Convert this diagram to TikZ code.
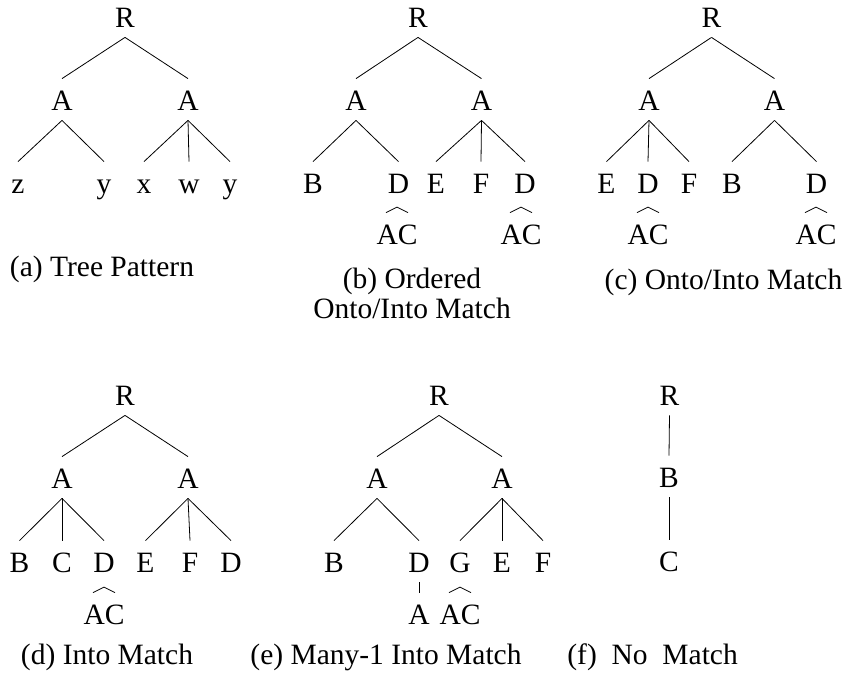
\documentclass[tikz,border=0pt]{standalone}
\usepackage{fontspec}
\setmainfont{Liberation Serif}
\usetikzlibrary{positioning}

\newcommand{\treefont}{\fontsize{29.5}{29.5}\selectfont}
% small two-leg hook above a node, standing for its two children
\newcommand{\caret}[1]{\draw ([xshift=-11pt]#1.north) -- ([yshift=5.5pt]#1.north) -- ([xshift=11pt]#1.north);}

\begin{document}
\begin{tikzpicture}[
    x=1pt, y=-1pt,
    line width=0.8pt,
    every node/.style={font=\treefont},
    lbl/.style={anchor=base, inner xsep=0pt, inner ysep=10pt, text height=21pt, text depth=0pt},
    captxt/.style={anchor=base, inner sep=0pt}
]
\useasboundingbox (0,0) rectangle (843,672);

% (a) tree pattern
\node[lbl] (Ra) at (125,27) {R};
\node[lbl] (Aa1) at (62,110) {A};
\node[lbl] (Aa2) at (188,110) {A};
\node[lbl] (za) at (18,193) {z};
\node[lbl] (ya1) at (104,193) {y};
\node[lbl] (xa) at (144,193) {x};
\node[lbl] (wa) at (189,193) {w};
\node[lbl] (ya2) at (230,193) {y};
\node[captxt] (capa) at (102,276) {(a) Tree Pattern};

\draw (Ra.south) -- (Aa1.north);
\draw (Ra.south) -- (Aa2.north);
\draw (Aa1.south) -- (za.north);
\draw (Aa1.south) -- (ya1.north);
\draw (Aa2.south) -- (xa.north);
\draw (Aa2.south) -- (wa.north);
\draw (Aa2.south) -- (ya2.north);

% (b) ordered onto/into match
\node[lbl] (Rb) at (418,27) {R};
\node[lbl] (Ab1) at (356,110) {A};
\node[lbl] (Ab2) at (481.5,110) {A};
\node[lbl] (Bb) at (313,193) {B};
\node[lbl] (Db1) at (398.5,193) {D};
\node[lbl] (Eb) at (436,193) {E};
\node[lbl] (Fb) at (481,193) {F};
\node[lbl] (Db2) at (525,193) {D};
\node[lbl] (ACb1) at (397,244) {AC};
\node[lbl] (ACb2) at (521,244) {AC};
\node[captxt] (capb1) at (412,288) {(b) Ordered};
\node[captxt] (capb2) at (412,318) {Onto/Into Match};

\draw (Rb.south) -- (Ab1.north);
\draw (Rb.south) -- (Ab2.north);
\draw (Ab1.south) -- (Bb.north);
\draw (Ab1.south) -- (Db1.north);
\draw (Ab2.south) -- (Eb.north);
\draw (Ab2.south) -- (Fb.north);
\draw (Ab2.south) -- (Db2.north);
\caret{ACb1}
\caret{ACb2}

% (c) onto/into match
\node[lbl] (Rc) at (711.5,27) {R};
\node[lbl] (Ac1) at (649,110) {A};
\node[lbl] (Ac2) at (774.5,110) {A};
\node[lbl] (Ec) at (606.5,193) {E};
\node[lbl] (Dc1) at (648,193) {D};
\node[lbl] (Fc) at (689,193) {F};
\node[lbl] (Bc) at (732,193) {B};
\node[lbl] (Dc2) at (816.5,193) {D};
\node[lbl] (ACc1) at (648,244) {AC};
\node[lbl] (ACc2) at (816,244) {AC};
\node[captxt] (capc) at (723.5,289) {(c) Onto/Into Match};

\draw (Rc.south) -- (Ac1.north);
\draw (Rc.south) -- (Ac2.north);
\draw (Ac1.south) -- (Ec.north);
\draw (Ac1.south) -- (Dc1.north);
\draw (Ac1.south) -- (Fc.north);
\draw (Ac2.south) -- (Bc.north);
\draw (Ac2.south) -- (Dc2.north);
\caret{ACc1}
\caret{ACc2}

% (d) into match
\node[lbl] (Rd) at (125,405) {R};
\node[lbl] (Ad1) at (62,488) {A};
\node[lbl] (Ad2) at (188,488) {A};
\node[lbl] (Bd) at (19.5,572) {B};
\node[lbl] (Cd) at (62,572) {C};
\node[lbl] (Dd1) at (104,572) {D};
\node[lbl] (Ed) at (145.5,572) {E};
\node[lbl] (Fd) at (190,572) {F};
\node[lbl] (Dd2) at (231,572) {D};
\node[lbl] (ACd) at (104,624) {AC};
\node[captxt] (capd) at (107,664) {(d) Into Match};

\draw (Rd.south) -- (Ad1.north);
\draw (Rd.south) -- (Ad2.north);
\draw (Ad1.south) -- (Bd.north);
\draw (Ad1.south) -- (Cd.north);
\draw (Ad1.south) -- (Dd1.north);
\draw (Ad2.south) -- (Ed.north);
\draw (Ad2.south) -- (Fd.north);
\draw (Ad2.south) -- (Dd2.north);
\caret{ACd}

% (e) many-1 into match
\node[lbl] (Re) at (439,405) {R};
\node[lbl] (Ae1) at (377,488) {A};
\node[lbl] (Ae2) at (502,488) {A};
\node[lbl] (Be) at (334,572) {B};
\node[lbl] (De) at (419,572) {D};
\node[lbl] (Ge) at (460,572) {G};
\node[lbl] (Ee) at (502,572) {E};
\node[lbl] (Fe) at (543,572) {F};
\node[lbl] (Ae3) at (419,624) {A};
\node[lbl] (ACe) at (460,624) {AC};
\node[captxt] (cape) at (386,664) {(e) Many-1 Into Match};

\draw (Re.south) -- (Ae1.north);
\draw (Re.south) -- (Ae2.north);
\draw (Ae1.south) -- (Be.north);
\draw (Ae1.south) -- (De.north);
\draw (Ae2.south) -- (Ge.north);
\draw (Ae2.south) -- (Ee.north);
\draw (Ae2.south) -- (Fe.north);
\draw (De.south) -- (Ae3.north);
\caret{ACe}

% (f) no match
\node[lbl] (Rf) at (669.5,405) {R};
\node[lbl] (Bf) at (669,487) {B};
\node[lbl] (Cf) at (669,571) {C};
\node[captxt, anchor=base west] (capf) at (567,664) {(f)\ \ No\ \ Match};

\draw (Rf.south) -- (Bf.north);
\draw (Bf.south) -- (Cf.north);
\end{tikzpicture}
\end{document}
